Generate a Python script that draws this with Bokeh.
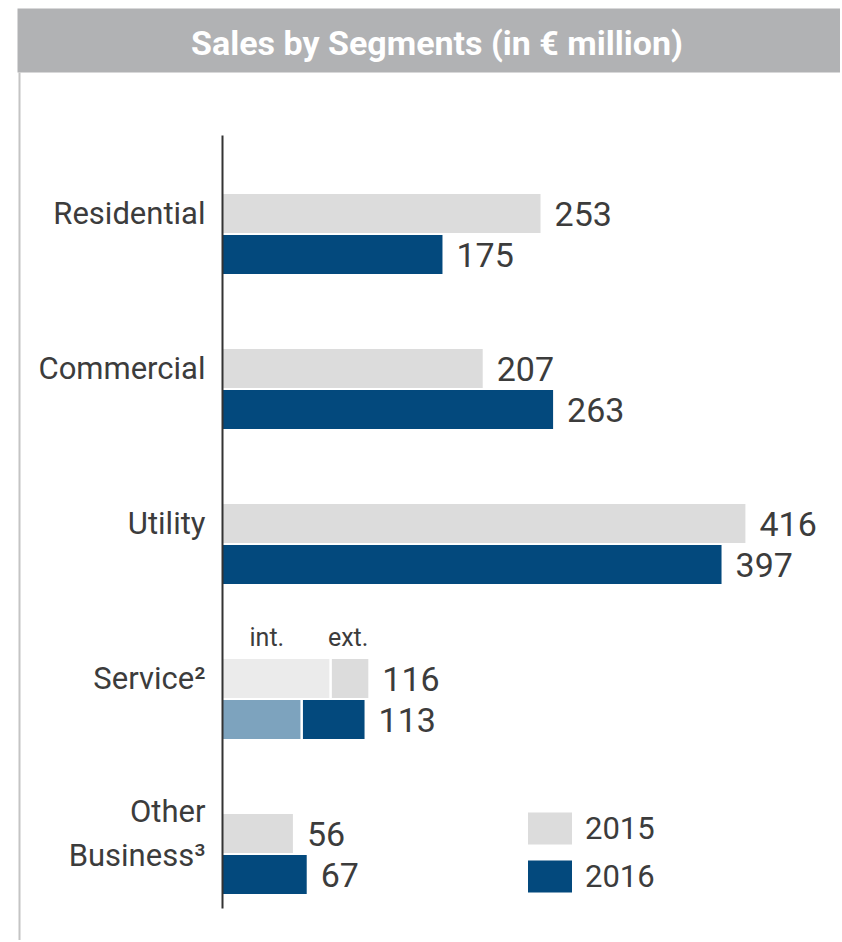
from bokeh.plotting import figure
from bokeh.models import Range1d, ColumnDataSource, Legend, LegendItem
from bokeh.core.properties import value
from bokeh.embed import file_html
from bokeh.resources import INLINE

# ---- data ----
categories = ["Residential", "Commercial", "Utility", "Service\u00b2", "Other\nBusiness\u00b3"]
sales_2015 = [253, 207, 416, 116, 56]
sales_2016 = [175, 263, 397, 113, 67]
service_int = {"2015": 86, "2016": 63}   # internal share of Service sales
service_ext = {"2015": 30, "2016": 50}   # external share of Service sales
title_text = "Sales by Segments (in \u20ac million)"
years = ["2015", "2016"]

# ---- layout constants (pixels) ----
W, H = 840, 940
PX_PER_UNIT = 1.257          # px per € million
AXIS_X = 222                 # canvas px of value 0
GROUP_PX = 155               # px between categories
GROUP0_Y = 233.5             # canvas px of first category centre
BAR_OFF = 20.5 / GROUP_PX
BAR_H = 39 / GROUP_PX

C15 = "#DCDCDC"
C15_INT = "#EBEBEB"
C16 = "#03497D"
C16_INT = "#7DA3BE"
TXT = "#3C3C3C"
FONT = "Roboto"

x0 = -AXIS_X / PX_PER_UNIT
x1 = x0 + W / PX_PER_UNIT
ytop = -GROUP0_Y / GROUP_PX
ybot = ytop + H / GROUP_PX

def ypx(c):  # canvas px -> y data
    return ytop + c / GROUP_PX

def xpx(c):  # canvas px -> x data
    return x0 + c / PX_PER_UNIT

p = figure(width=W, height=H, output_backend="svg", toolbar_location=None,
           x_range=Range1d(x0, x1), y_range=Range1d(ybot, ytop),
           min_border=0, min_border_left=0, min_border_right=0,
           min_border_top=0, min_border_bottom=0)
p.axis.visible = False
p.grid.visible = False
p.outline_line_color = None
p.background_fill_color = "white"
p.border_fill_color = "white"

idx = list(range(len(categories)))
y15 = [i - BAR_OFF for i in idx]
y16 = [i + BAR_OFF for i in idx]

src = ColumnDataSource(dict(cat=categories, y15=y15, y16=y16,
                            v15=sales_2015, v16=sales_2016,
                            l15=[str(v) for v in sales_2015],
                            l16=[str(v) for v in sales_2016]))

# title band and frame line
p.quad(left=xpx(17), right=x1, top=ypx(8), bottom=ypx(72), fill_color="#B1B2B4", line_color=None)
p.text(x=[xpx(436.5)], y=[ypx(42)], text=[title_text], text_color="white",
       text_font=value(FONT), text_font_style="bold", text_font_size="34px",
       text_align="center", text_baseline="middle")
p.segment(x0=[xpx(19)], x1=[xpx(19)], y0=[ypx(72)], y1=[ybot], line_color="#C4C4C4", line_width=2)

# bars
r15 = p.hbar(y="y15", right="v15", left=0, height=BAR_H, source=src, fill_color=C15, line_color=None)
r16 = p.hbar(y="y16", right="v16", left=0, height=BAR_H, source=src, fill_color=C16, line_color=None)

# Service split int./ext.
si = categories.index("Service\u00b2")
p.hbar(y=[y15[si]], right=[service_int["2015"]], left=0, height=BAR_H, fill_color=C15_INT, line_color=None)
p.hbar(y=[y16[si]], right=[service_int["2016"]], left=0, height=BAR_H, fill_color=C16_INT, line_color=None)
p.segment(x0=[service_int["2015"], service_int["2016"]], x1=[service_int["2015"], service_int["2016"]],
          y0=[y15[si] - BAR_H / 2, y16[si] - BAR_H / 2], y1=[y15[si] + BAR_H / 2, y16[si] + BAR_H / 2],
          line_color="white", line_width=2.5)
p.text(x=[service_int["2015"] / 4, sales_2015[si]], y=[y15[si], y15[si]], text=["int.", "ext."],
       text_align=["left", "right"], y_offset=-41, text_baseline="middle",
       text_color=TXT, text_font=value(FONT), text_font_size="25px")

# axis line
p.segment(x0=[0], x1=[0], y0=[ypx(135)], y1=[ypx(908)], line_color="#333333", line_width=2)

# category labels
p.text(x=xpx(205), y="y15", text="cat", source=src, text_align="right", text_baseline="middle",
       text_color=TXT, text_font=value(FONT), text_font_size="31px", text_line_height=1.18)

# value labels
p.text(x="v15", y="y15", text="l15", source=src, x_offset=14, text_baseline="middle",
       text_color=TXT, text_font=value(FONT), text_font_size="34px")
p.text(x="v16", y="y16", text="l16", source=src, x_offset=14, text_baseline="middle",
       text_color=TXT, text_font=value(FONT), text_font_size="34px")

legend = Legend(items=[LegendItem(label=years[0], renderers=[r15]),
                       LegendItem(label=years[1], renderers=[r16])],
                location=(522, H - 896), orientation="vertical",
                glyph_width=55, glyph_height=40, label_height=40, label_standoff=8,
                spacing=8, padding=0, margin=0,
                border_line_color=None, background_fill_alpha=0,
                label_text_font=FONT, label_text_font_size="31px", label_text_color=TXT)
p.add_layout(legend)

open("out.html", "w").write(file_html(p, INLINE))
